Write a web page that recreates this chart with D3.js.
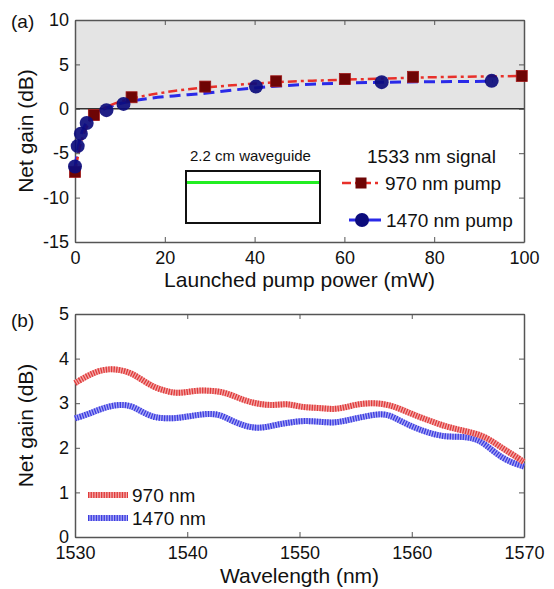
<!DOCTYPE html>
<html>
<head>
<meta charset="utf-8">
<script src="https://cdn.jsdelivr.net/npm/d3@7"></script>
<style>
  body { margin: 0; background: #fff; }
  svg { font-family: "Liberation Sans", Arial, sans-serif; }
  .axis path, .axis line { stroke: #555; }
  .axis text { fill: #111; font-size: 18px; }
</style>
</head>
<body>
<div id="chart"></div>
<script>
// (a) gain vs pump power - measured points
var pump970X = [0, 4.2, 12.6, 29, 44.8, 60.1, 75.3, 99.5];
var pump970Y = [-7.1, -0.7, 1.3, 2.5, 3.1, 3.35, 3.6, 3.7];
var pump1470X = [0, 0.6, 1.3, 2.6, 7, 10.8, 40.3, 68.3, 92.8];
var pump1470Y = [-6.5, -4.2, -2.8, -1.6, -0.15, 0.55, 2.5, 3.0, 3.15];

// fitted curves
var fit970X = [0, 1, 2, 3, 4, 5, 7, 10, 13, 17, 22, 29, 35, 45, 55, 65, 75, 85, 100];
var fit970Y = [-7.2, -4.5, -2.8, -1.7, -0.9, -0.4, 0.2, 0.8, 1.2, 1.6, 2.0, 2.4, 2.65, 3.0, 3.2, 3.35, 3.5, 3.6, 3.7];
var fit1470X = [0, 0.5, 1, 2, 3, 4, 5, 7, 10, 13, 17, 22, 29, 35, 40, 50, 60, 70, 80, 93];
var fit1470Y = [-6.6, -5, -3.6, -2.1, -1.3, -0.8, -0.4, 0.1, 0.6, 0.9, 1.2, 1.45, 1.75, 2.1, 2.35, 2.7, 2.9, 3.0, 3.05, 3.1];

// (b) gain spectra
var wavelengths = [1530, 1531, 1532, 1533, 1534, 1535, 1536, 1537, 1538, 1539, 1540, 1541, 1542, 1543, 1544, 1545,
  1546, 1547, 1548, 1549, 1550, 1551, 1552, 1553, 1554, 1555, 1556, 1557, 1558, 1559, 1560, 1561, 1562, 1563,
  1564, 1565, 1566, 1567, 1568, 1569, 1570];
var gain970 = [3.45, 3.6, 3.72, 3.77, 3.75, 3.68, 3.52, 3.36, 3.28, 3.22, 3.25, 3.29, 3.28, 3.26, 3.18, 3.07,
  3.0, 2.96, 2.96, 2.99, 2.92, 2.9, 2.89, 2.86, 2.9, 2.97, 3.0, 3.0, 2.96, 2.87, 2.76, 2.66, 2.57, 2.48,
  2.42, 2.36, 2.3, 2.18, 2.0, 1.85, 1.68];
var gain1470 = [2.66, 2.74, 2.84, 2.93, 2.97, 2.95, 2.8, 2.68, 2.66, 2.66, 2.7, 2.74, 2.77, 2.74, 2.6, 2.5,
  2.44, 2.46, 2.52, 2.56, 2.6, 2.6, 2.58, 2.56, 2.6, 2.66, 2.71, 2.76, 2.74, 2.6, 2.48, 2.38, 2.3, 2.25,
  2.25, 2.24, 2.18, 1.98, 1.78, 1.66, 1.58];

var aTicksX = [0, 20, 40, 60, 80, 100];
var aTicksY = [-15, -10, -5, 0, 5, 10];
var bTicksX = [1530, 1540, 1550, 1560, 1570];
var bTicksY = [0, 1, 2, 3, 4, 5];

var svg = d3.select("#chart").append("svg")
    .attr("width", 554)
    .attr("height", 589);

function zip(xs, ys) { return xs.map(function(x, i) { return [x, ys[i]]; }); }
var plain = function(d) { return String(d); };

// draw the boxed axes with inward ticks
function drawAxes(g, x, y, xt, yt, w, h) {
    g.append("g").attr("class", "axis").attr("transform", "translate(0," + h + ")")
        .call(d3.axisBottom(x).tickValues(xt).tickFormat(plain).tickSize(-5).tickPadding(9).tickSizeOuter(0));
    g.append("g").attr("class", "axis")
        .call(d3.axisLeft(y).tickValues(yt).tickFormat(plain).tickSize(-5).tickPadding(6).tickSizeOuter(0));
    g.append("g").attr("class", "axis")
        .call(d3.axisTop(x).tickValues(xt).tickSize(-5).tickFormat("").tickSizeOuter(0));
    g.append("g").attr("class", "axis").attr("transform", "translate(" + w + ",0)")
        .call(d3.axisRight(y).tickValues(yt).tickSize(-5).tickFormat("").tickSizeOuter(0));
    g.selectAll(".axis path").attr("stroke-width", 1.5);
}

// ---------- panel (a) ----------
var aLeft = 75, aTop = 20, aW = 449, aH = 222;
var ga = svg.append("g").attr("transform", "translate(" + aLeft + "," + aTop + ")");
var xa = d3.scaleLinear().domain([0, 100]).range([0, aW]);
var ya = d3.scaleLinear().domain([-15, 10]).range([aH, 0]);

ga.append("rect")
    .attr("x", 0).attr("y", ya(10))
    .attr("width", aW).attr("height", ya(0) - ya(10))
    .attr("fill", "#e4e4e4");
ga.append("line")
    .attr("x1", 0).attr("x2", aW).attr("y1", ya(0)).attr("y2", ya(0))
    .attr("stroke", "#333").attr("stroke-width", 1.5);

drawAxes(ga, xa, ya, aTicksX, aTicksY, aW, aH);

var lineA = d3.line()
    .x(function(d) { return xa(d[0]); })
    .y(function(d) { return ya(d[1]); })
    .curve(d3.curveMonotoneX);

ga.append("path")
    .attr("d", lineA(zip(fit1470X, fit1470Y)))
    .attr("fill", "none").attr("stroke", "#2a2ae8")
    .attr("stroke-width", 3).attr("stroke-dasharray", "11,6");
ga.append("path")
    .attr("d", lineA(zip(fit970X, fit970Y)))
    .attr("fill", "none").attr("stroke", "#e8302a")
    .attr("stroke-width", 2.5).attr("stroke-dasharray", "9,4,3,4");

ga.selectAll(".sq").data(zip(pump970X, pump970Y)).enter()
    .append("rect")
    .attr("class", "sq")
    .attr("x", function(d) { return xa(d[0]) - 5.5; })
    .attr("y", function(d) { return ya(d[1]) - 5.5; })
    .attr("width", 11).attr("height", 11)
    .attr("fill", "#6e0505").attr("stroke", "#a01515").attr("stroke-width", 0.8);

ga.selectAll(".dot").data(zip(pump1470X, pump1470Y)).enter()
    .append("circle")
    .attr("class", "dot")
    .attr("cx", function(d) { return xa(d[0]); })
    .attr("cy", function(d) { return ya(d[1]); })
    .attr("r", 7)
    .attr("fill", "#0c0c7c").attr("fill-opacity", 0.92);

// waveguide inset
svg.append("text").attr("x", 190).attr("y", 161)
    .attr("font-size", 15).attr("fill", "#111").text("2.2 cm waveguide");
svg.append("rect").attr("x", 186).attr("y", 171).attr("width", 134).attr("height", 52)
    .attr("fill", "#fff").attr("stroke", "#111").attr("stroke-width", 2);
svg.append("line").attr("x1", 187).attr("x2", 319).attr("y1", 182.5).attr("y2", 182.5)
    .attr("stroke", "#22ee22").attr("stroke-width", 3);

// legend (a)
svg.append("text").attr("x", 367).attr("y", 163)
    .attr("font-size", 19).attr("fill", "#111").text("1533 nm signal");
svg.append("line").attr("x1", 342).attr("x2", 379).attr("y1", 183).attr("y2", 183)
    .attr("stroke", "#e8302a").attr("stroke-width", 2.5).attr("stroke-dasharray", "9,4,3,4");
svg.append("rect").attr("x", 355.5).attr("y", 177.5).attr("width", 11).attr("height", 11)
    .attr("fill", "#6e0505");
svg.append("text").attr("x", 385).attr("y", 190)
    .attr("font-size", 19).attr("fill", "#111").text("970 nm pump");
svg.append("line").attr("x1", 349).attr("x2", 381).attr("y1", 220).attr("y2", 220)
    .attr("stroke", "#2a2ae8").attr("stroke-width", 3);
svg.append("circle").attr("cx", 362).attr("cy", 220).attr("r", 7).attr("fill", "#0c0c7c");
svg.append("text").attr("x", 386).attr("y", 227)
    .attr("font-size", 19).attr("fill", "#111").text("1470 nm pump");

svg.append("text").attr("x", aLeft + aW / 2).attr("y", 287)
    .attr("text-anchor", "middle").attr("font-size", 21).attr("fill", "#111")
    .text("Launched pump power (mW)");
svg.append("text").attr("transform", "translate(33," + (aTop + aH / 2) + ") rotate(-90)")
    .attr("text-anchor", "middle").attr("font-size", 21).attr("fill", "#111")
    .text("Net gain (dB)");
svg.append("text").attr("x", 11).attr("y", 28).attr("font-size", 19).attr("fill", "#111").text("(a)");

// ---------- panel (b) ----------
var bLeft = 75, bTop = 314, bW = 449, bH = 223;
var gb = svg.append("g").attr("transform", "translate(" + bLeft + "," + bTop + ")");
var xb = d3.scaleLinear().domain([1530, 1570]).range([0, bW]);
var yb = d3.scaleLinear().domain([0, 5]).range([bH, 0]);

drawAxes(gb, xb, yb, bTicksX, bTicksY, bW, bH);

var lineB = d3.line()
    .x(function(d) { return xb(d[0]); })
    .y(function(d) { return yb(d[1]); })
    .curve(d3.curveBasis);

function hatched(g, d, light, dark) {
    g.append("path").attr("d", d).attr("fill", "none")
        .attr("stroke", light).attr("stroke-width", 6);
    g.append("path").attr("d", d).attr("fill", "none")
        .attr("stroke", dark).attr("stroke-width", 6).attr("stroke-dasharray", "1.3,1.3");
}
hatched(gb, lineB(zip(wavelengths, gain1470)), "#a8a8f4", "#3c3ce0");
hatched(gb, lineB(zip(wavelengths, gain970)), "#f2a8a8", "#e03a3a");

// legend (b)
hatched(svg, "M88,495H128", "#f2a8a8", "#e03a3a");
svg.append("text").attr("x", 132).attr("y", 502).attr("font-size", 19).attr("fill", "#111").text("970 nm");
hatched(svg, "M88,518H128", "#a8a8f4", "#3c3ce0");
svg.append("text").attr("x", 132).attr("y", 525).attr("font-size", 19).attr("fill", "#111").text("1470 nm");

svg.append("text").attr("x", bLeft + bW / 2).attr("y", 583)
    .attr("text-anchor", "middle").attr("font-size", 21).attr("fill", "#111")
    .text("Wavelength (nm)");
svg.append("text").attr("transform", "translate(33," + (bTop + bH / 2) + ") rotate(-90)")
    .attr("text-anchor", "middle").attr("font-size", 21).attr("fill", "#111")
    .text("Net gain (dB)");
svg.append("text").attr("x", 11).attr("y", 327).attr("font-size", 19).attr("fill", "#111").text("(b)");
</script>
</body>
</html>
